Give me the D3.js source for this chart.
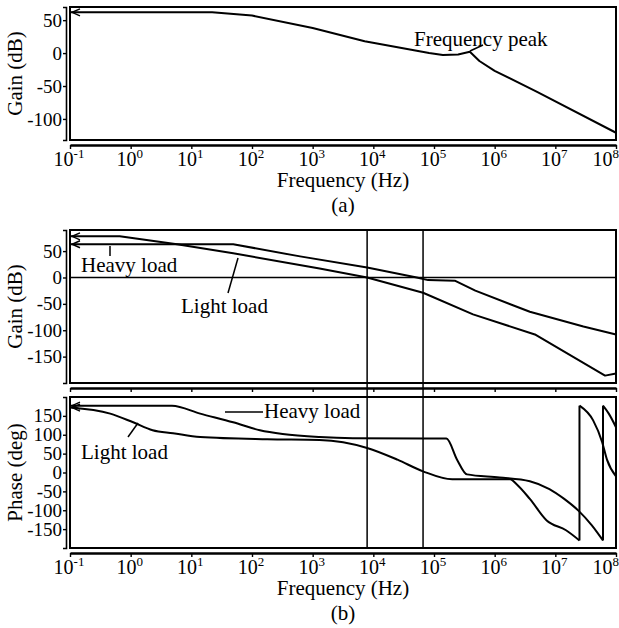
<!DOCTYPE html>
<html>
<head>
<meta charset="utf-8">
<script src="https://cdn.jsdelivr.net/npm/d3@7"></script>
<style>
  html, body { margin: 0; padding: 0; background: #fff; }
  svg { display: block; font-family: "Liberation Serif", "Times New Roman", serif; }
</style>
</head>
<body>
<div id="chart"></div>
<script>
// Bode plots: (a) single gain curve, (b) gain + phase for heavy / light load

// x axis decades
const decades = [-1, 0, 1, 2, 3, 4, 5, 6, 7, 8];

// (a) gain
const gainAFreq = [0.1, 22, 100, 1000, 7200, 83000, 1.4e5, 2.5e5, 3.9e5, 5.6e5, 1e6, 5e6, 1e8];
const gainAVal  = [62, 62, 57, 38, 18, 0, -3, -2, 2, -12, -27, -59, -121];

// (b) gain, light load
const lightGainFreq = [0.1, 0.66, 5.8, 49, 1300, 7900, 66000, 4.4e5, 4.6e6, 6.6e7, 1e8];
const lightGainVal  = [78, 78, 63, 46, 17, 0, -29, -70, -108, -186, -182];

// (b) gain, heavy load
const heavyGainFreq = [0.1, 49, 620, 7900, 52000, 80000, 2.2e5, 4.8e5, 3.8e6, 2.9e7, 1e8];
const heavyGainVal  = [63, 63, 40, 19, 0, -5, -6, -25, -65, -93, -108];

// (b) phase, heavy load
const heavyPhaseFreq = [0.1, 4.8, 14, 49, 135, 320, 1300, 4600, 1.6e5, 2.4e5, 3.5e5, 1.2e6,
                        3.8e6, 8e6, 1.4e7, 2.4e7, 4e7, 6.1e7, 6.1e7, 7.6e7, 1e8];
const heavyPhaseVal  = [177, 177, 156, 133, 112, 102, 94, 91, 90, 34, -5, -13,
                        -23, -44, -70, -101, -140, -180, 177, 156, 120];

// (b) phase, light load
const lightPhaseFreq = [0.1, 0.46, 1.1, 2.3, 5, 14, 178, 1300, 7900, 25000, 66000, 2e5,
                        1.8e6, 2.3e6, 3.8e6, 7.2e6, 1.5e7, 2.5e7, 2.5e7, 4.2e7, 5.9e7, 7.1e7, 1e8];
const lightPhaseVal  = [172, 156, 133, 112, 104, 94, 88, 86, 65, 34, 3, -18,
                        -18, -31, -70, -127, -153, -180, 177, 138, 81, 34, -10];

// cursor lines in (b)
const markerFreqs = [7900, 66000];

// y tick values
const gainATicks  = [50, 0, -50, -100];
const gainBTicks  = [50, 0, -50, -100, -150];
const phaseTicks  = [150, 100, 50, 0, -50, -100, -150];

const width = 619, height = 628;
const svg = d3.select('#chart').append('svg')
  .attr('width', width)
  .attr('height', height);

const x = d3.scaleLog().domain([0.1, 1e8]).range([70, 616]);

const yA = d3.scaleLinear().domain([-132, 70]).range([140, 7]);
const yG = d3.scaleLinear().domain([-200, 90]).range([383, 230]);
const yP = d3.scaleLinear().domain([-200, 200]).range([548, 397]);

// frame + offset axes in the Maple/Mathcad style
function panel(y, ticks, ylabel, showXLabels) {
  const [bottom, top] = y.range();
  const g = svg.append('g');

  g.append('rect')
    .attr('x', x.range()[0]).attr('y', top)
    .attr('width', x.range()[1] - x.range()[0])
    .attr('height', bottom - top)
    .attr('fill', 'none')
    .attr('stroke', '#000')
    .attr('stroke-width', 2);

  const left = g.append('g')
    .attr('transform', 'translate(66,0)')
    .call(d3.axisLeft(y).tickValues(ticks).tickSizeInner(3).tickSizeOuter(3)
      .tickPadding(1).tickFormat(d => String(d)));
  left.select('.domain').attr('stroke-width', 1.6);
  left.selectAll('.tick line').attr('stroke-width', 1.4);
  left.selectAll('text')
    .attr('font-family', '"Liberation Serif", serif')
    .attr('font-size', 19)
    .attr('fill', '#000');

  const bot = g.append('g')
    .attr('transform', `translate(0,${bottom + 5})`)
    .call(d3.axisBottom(x).tickValues(decades.map(d => Math.pow(10, d))).tickSize(4).tickSizeOuter(0).tickFormat(''));
  bot.select('.domain').attr('stroke-width', 2.6);
  bot.selectAll('.tick line').attr('stroke-width', 1.4);

  if (showXLabels) {
    const lab = g.append('g').selectAll('text')
      .data(decades)
      .enter()
      .append('text')
      .attr('x', d => x(Math.pow(10, d)) - 1)
      .attr('y', bottom + 26)
      .attr('text-anchor', 'middle')
      .attr('font-size', 20);
    lab.append('tspan').text('10');
    lab.append('tspan')
      .attr('dy', -8)
      .attr('font-size', 13)
      .text(d => d);
    // keep the last label inside the picture
    lab.each(function() {
      const b = this.getBBox();
      if (b.x + b.width > width) {
        d3.select(this).attr('x', +d3.select(this).attr('x') - (b.x + b.width - width));
      }
    });

    g.append('text')
      .attr('x', 343).attr('y', bottom + 47)
      .attr('text-anchor', 'middle')
      .attr('font-size', 21)
      .text('Frequency (Hz)');
  }

  g.append('text')
    .attr('transform', `translate(22,${(top + bottom) / 2}) rotate(-90)`)
    .attr('text-anchor', 'middle')
    .attr('font-size', 21)
    .text(ylabel);
}

// split a series at its phase wraps (repeated frequency) and draw the pieces
function curve(y, fs, vs, smooth) {
  const pts = fs.map((f, i) => [f, vs[i]]);
  const pieces = [[pts[0]]];
  for (let i = 1; i < pts.length; i++) {
    if (pts[i][0] === pts[i - 1][0]) pieces.push([]);
    pieces[pieces.length - 1].push(pts[i]);
  }
  const line = d3.line().x(d => x(d[0])).y(d => y(d[1]))
    .curve(smooth ? d3.curveMonotoneX : d3.curveLinear);
  const g = svg.append('g')
    .attr('fill', 'none')
    .attr('stroke', '#000')
    .attr('stroke-width', 2)
    .attr('stroke-linejoin', 'round');
  pieces.forEach((p, i) => {
    g.append('path').attr('d', line(p));
    if (i > 0) {
      const a = pieces[i - 1][pieces[i - 1].length - 1];
      g.append('line')
        .attr('x1', x(a[0])).attr('x2', x(p[0][0]))
        .attr('y1', y(a[1])).attr('y2', y(p[0][1]));
    }
  });
  // little arrow head at the start of each curve
  const x0 = x(pts[0][0]) + 2, y0 = y(pts[0][1]);
  svg.append('path')
    .attr('d', `M${x0 + 8},${y0 - 3.5}L${x0},${y0}L${x0 + 8},${y0 + 3.5}`)
    .attr('fill', 'none')
    .attr('stroke', '#000')
    .attr('stroke-width', 1.4);
}

function note(txt, tx, ty, seg) {
  svg.append('text')
    .attr('x', tx).attr('y', ty)
    .attr('font-size', 21)
    .text(txt);
  svg.append('line')
    .attr('x1', seg[0]).attr('y1', seg[1])
    .attr('x2', seg[2]).attr('y2', seg[3])
    .attr('stroke', '#000')
    .attr('stroke-width', 1.5);
}

// ---- (a)
panel(yA, gainATicks, 'Gain (dB)', true);
curve(yA, gainAFreq, gainAVal, false);
note('Frequency peak', 414, 46, [470, 51, 483, 45]);
svg.append('text')
  .attr('x', 343).attr('y', 212)
  .attr('text-anchor', 'middle')
  .attr('font-size', 21)
  .text('(a)');

// ---- (b) gain
panel(yG, gainBTicks, 'Gain (dB)', false);

// 0 dB line
svg.append('line')
  .attr('x1', x.range()[0]).attr('x2', x.range()[1])
  .attr('y1', yG(0)).attr('y2', yG(0))
  .attr('stroke', '#000').attr('stroke-width', 1.5);

curve(yG, lightGainFreq, lightGainVal, false);
curve(yG, heavyGainFreq, heavyGainVal, false);
note('Heavy load', 81, 272, [110, 246, 110, 256]);
note('Light load', 181, 313, [228, 293, 238, 258]);

// ---- (b) phase
panel(yP, phaseTicks, 'Phase (deg)', true);
curve(yP, heavyPhaseFreq, heavyPhaseVal, true);
curve(yP, lightPhaseFreq, lightPhaseVal, true);
note('Heavy load', 264, 418, [225, 412, 263, 412]);
note('Light load', 81, 459, [128, 437, 138, 423]);

// cursor lines through both (b) panels
svg.append('g').selectAll('line')
  .data(markerFreqs)
  .enter()
  .append('line')
  .attr('x1', d => x(d)).attr('x2', d => x(d))
  .attr('y1', yG.range()[1]).attr('y2', yP.range()[0])
  .attr('stroke', '#000').attr('stroke-width', 1.5);

svg.append('text')
  .attr('x', 343).attr('y', 620)
  .attr('text-anchor', 'middle')
  .attr('font-size', 21)
  .text('(b)');
</script>
</body>
</html>
